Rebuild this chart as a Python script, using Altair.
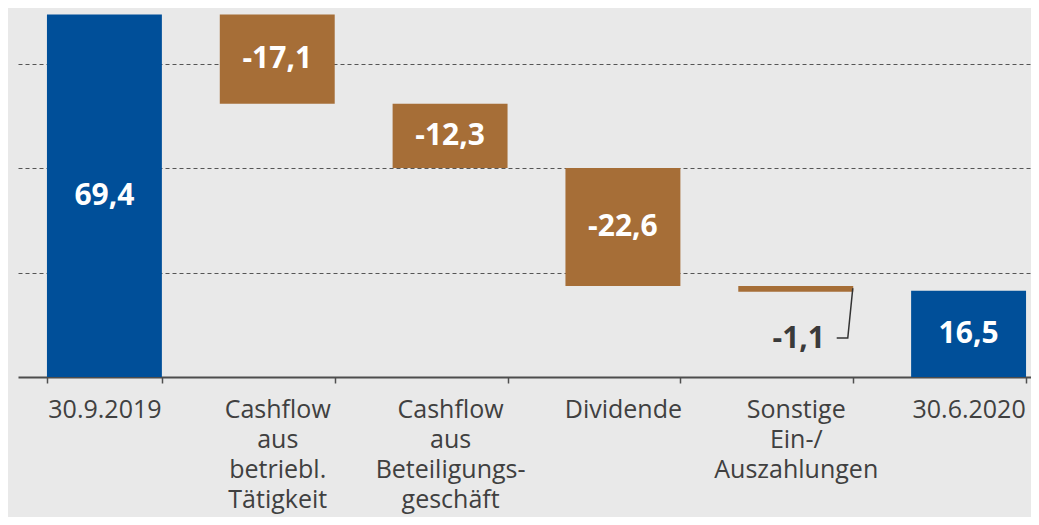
import altair as alt
import pandas as pd

# ---- data ----
categories = [
    "30.9.2019",
    "Cashflow|aus|betriebl.|Tätigkeit",
    "Cashflow|aus|Beteiligungs-|geschäft",
    "Dividende",
    "Sonstige|Ein-/|Auszahlungen",
    "30.6.2020",
]
amounts = [69.4, -17.1, -12.3, -22.6, -1.1, 16.5]
kinds = ["Bestand", "Veränderung", "Veränderung", "Veränderung", "Veränderung", "Bestand"]
grid_values = [20, 40, 60]

# annotation for the small bar (label below, with a leader line), in data units
small_index = 4
small_label_y = 7.3
leader_x = [4.737, 4.801, 4.830]   # in category-index units
leader_y = [7.47, 7.47, 17.0]

BLUE = "#004f99"
BROWN = "#a66e37"
BG = "#e9e9e9"
DARK = "#404040"

# ---- waterfall levels ----
starts, ends = [], []
level = 0.0
for a, k in zip(amounts, kinds):
    if k == "Bestand":
        starts.append(0.0)
        ends.append(a)
        level = a
    else:
        starts.append(level)
        ends.append(level + a)
        level += a

df = pd.DataFrame({
    "cat": categories,
    "kind": kinds,
    "start": starts,
    "end": ends,
    "mid": [(s + e) / 2 for s, e in zip(starts, ends)],
    "label": [f"{a:.1f}".replace(".", ",") for a in amounts],
})
df_in = df[df.index != small_index]
df_small = df[df.index == small_index].assign(ly=small_label_y)
leader_df = pd.DataFrame({"lx": leader_x, "ly": leader_y, "o": list(range(len(leader_x)))})

x_scale = alt.Scale(range=[0, 1037], paddingInner=0.335, paddingOuter=0.1675)
y_scale = alt.Scale(domain=[0, 70.65], nice=False, zero=True)

x_axis = alt.Axis(
    title=None,
    labelExpr="split(datum.label, '|')",
    labelFont="Open Sans",
    labelFontSize=25,
    labelColor=DARK,
    labelLineHeight=30,
    labelPadding=14,
    labelAngle=0,
    labelLimit=0,
    labelOverlap=False,
    tickBand="extent",
    tickSize=6,
    tickColor="#505050",
    tickWidth=1.5,
    domainColor="#4d4d4d",
    domainWidth=2,
    grid=False,
)
y_axis = alt.Axis(
    title=None, labels=False, ticks=False, domain=False,
    grid=True, values=grid_values, gridDash=[4, 3], gridColor="#555555", gridWidth=1,
)

X = alt.X("cat:N", sort=categories, scale=x_scale, axis=x_axis)
Y_kw = dict(scale=y_scale, axis=y_axis)

bars = alt.Chart(df).mark_bar().encode(
    x=X,
    y=alt.Y("start:Q", **Y_kw),
    y2="end:Q",
    color=alt.Color("kind:N", scale=alt.Scale(domain=["Bestand", "Veränderung"], range=[BLUE, BROWN]), legend=None),
)

texts = alt.Chart(df_in).mark_text(
    font="Open Sans", fontWeight="bold", fontSize=30, color="white", baseline="middle"
).encode(x=X, y=alt.Y("mid:Q", **Y_kw), text="label:N")

small_text = alt.Chart(df_small).mark_text(
    font="Open Sans", fontWeight="bold", fontSize=30, color="#3a3a3a", baseline="middle", dx=3
).encode(x=X, y=alt.Y("ly:Q", **Y_kw), text="label:N")

leader = alt.Chart(leader_df).mark_line(color="#333333", strokeWidth=1.5).encode(
    x=alt.X("lx:Q", scale=alt.Scale(domain=[0, 6], range=[0, 1037]), axis=None),
    y=alt.Y("ly:Q", **Y_kw),
    order="o:Q",
)

chart = (
    alt.layer(alt.layer(bars, texts, small_text), leader)
    .resolve_scale(x="independent")
    .properties(
        width=1013,
        height=369,
        autosize=alt.AutoSizeParams(type="none"),
        padding={"left": 10, "top": 0, "right": 0, "bottom": 140},
        background=BG,
    )
    .configure_view(stroke=None)
)

chart.save("out.html", embed_options={"renderer": "svg", "actions": False})
